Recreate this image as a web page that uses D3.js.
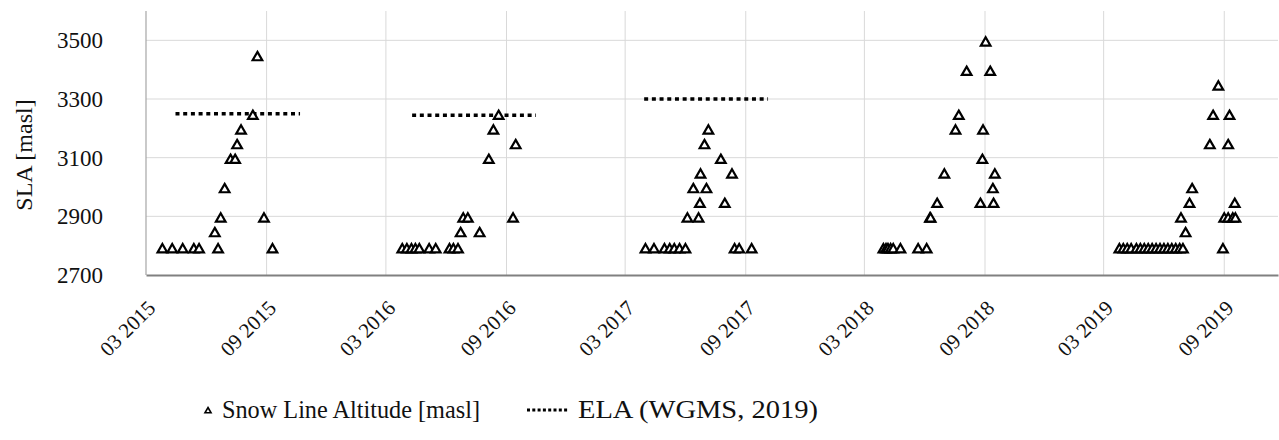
<!DOCTYPE html>
<html>
<head>
<meta charset="utf-8">
<script src="https://cdn.jsdelivr.net/npm/d3@7"></script>
<style>
  body { margin: 0; background: #fff; }
  #chart { width: 1279px; height: 440px; }
</style>
</head>
<body>
<div id="chart"></div>
<script>
// snow line altitude observations, one list per season [date, altitude]
var sla2015 = [["2015-03-26",2790],["2015-04-10",2790],["2015-04-26",2790],["2015-05-13",2790],["2015-05-21",2790],
  ["2015-06-19",2790],["2015-09-10",2790],["2015-06-14",2845],["2015-06-23",2895],["2015-08-28",2895],
  ["2015-06-29",2995],["2015-07-08",3095],["2015-07-15",3095],["2015-07-18",3145],["2015-07-24",3195],
  ["2015-08-11",3245],["2015-08-18",3445]];
var sla2016 = [["2016-03-26",2790],["2016-04-02",2790],["2016-04-09",2790],["2016-04-15",2790],["2016-04-21",2790],
  ["2016-05-06",2790],["2016-05-16",2790],["2016-06-06",2790],["2016-06-12",2790],["2016-06-19",2790],
  ["2016-06-23",2845],["2016-07-22",2845],["2016-06-27",2895],["2016-07-04",2895],["2016-09-11",2895],
  ["2016-08-05",3095],["2016-09-15",3145],["2016-08-12",3195],["2016-08-20",3245]];
var sla2017 = [["2017-04-01",2790],["2017-04-14",2790],["2017-04-30",2790],["2017-05-08",2790],["2017-05-15",2790],
  ["2017-05-23",2790],["2017-06-01",2790],["2017-08-15",2790],["2017-08-22",2790],["2017-09-10",2790],
  ["2017-06-04",2895],["2017-06-21",2895],["2017-06-23",2945],["2017-07-31",2945],["2017-06-13",2995],
  ["2017-07-03",2995],["2017-06-24",3045],["2017-08-11",3045],["2017-07-25",3095],["2017-06-30",3145],
  ["2017-07-06",3195]];
var sla2018 = [["2018-03-30",2790],["2018-04-03",2790],["2018-04-06",2790],["2018-04-10",2790],["2018-04-14",2790],
  ["2018-04-25",2790],["2018-05-22",2790],["2018-06-04",2790],["2018-06-09",2895],["2018-06-10",2895],
  ["2018-06-20",2945],["2018-07-01",3045],["2018-07-18",3195],["2018-07-23",3245],["2018-08-04",3395],
  ["2018-08-25",2945],["2018-08-28",3095],["2018-08-29",3195],["2018-09-02",3495],["2018-09-09",3395],
  ["2018-09-13",2995],["2018-09-14",2945],["2018-09-16",3045]];
var sla2019 = [["2019-03-25",2790],["2019-03-31",2790],["2019-04-06",2790],["2019-04-12",2790],["2019-04-20",2790],
  ["2019-04-26",2790],["2019-05-02",2790],["2019-05-08",2790],["2019-05-14",2790],["2019-05-20",2790],
  ["2019-05-26",2790],["2019-06-01",2790],["2019-06-07",2790],["2019-06-13",2790],["2019-06-19",2790],
  ["2019-06-25",2790],["2019-06-30",2790],["2019-06-27",2895],["2019-07-04",2845],["2019-07-10",2945],
  ["2019-07-14",2995],["2019-08-10",3145],["2019-08-15",3245],["2019-08-23",3345],["2019-08-30",2790],
  ["2019-09-01",2895],["2019-09-07",3145],["2019-09-07",2895],["2019-09-09",3245],["2019-09-14",2895],
  ["2019-09-17",2945],["2019-09-18",2895]];

// ELA (WGMS, 2019) segments: start, end, altitude
var ela = [["2015-04-15","2015-10-22",3250],["2016-04-10","2016-10-16",3245],["2017-03-30","2017-10-05",3300]];

var xTicks = ["2015-03-01","2015-09-01","2016-03-01","2016-09-01","2017-03-01","2017-09-01",
  "2018-03-01","2018-09-01","2019-03-01","2019-09-01"];
var yTicks = [2700, 2900, 3100, 3300, 3500];

var FONT = "'Liberation Serif', 'Times New Roman', serif";
var parse = d3.timeParse("%Y-%m-%d");
var W = 1279, H = 440;
var margin = {top: 11, right: 1, bottom: 165, left: 146};
var w = W - margin.left - margin.right;
var h = H - margin.top - margin.bottom;

var xscale = d3.scaleTime()
  .domain([parse("2015-03-01"), parse("2019-11-22")])
  .range([0, w]);
var yscale = d3.scaleLinear()
  .domain([2700, 3600])
  .range([h, 0]);

var svg = d3.select("#chart").append("svg")
  .attr("width", W).attr("height", H)
  .style("font-family", FONT);
var g = svg.append("g")
  .attr("transform", "translate(" + margin.left + "," + margin.top + ")");

// grid
g.selectAll(".hgrid").data(yTicks.slice(1)).enter().append("line")
  .attr("x1", 0).attr("x2", w)
  .attr("y1", function(d){ return yscale(d); })
  .attr("y2", function(d){ return yscale(d); })
  .attr("stroke", "#d9d9d9").attr("stroke-width", 1);
g.selectAll(".vgrid").data(xTicks.slice(1)).enter().append("line")
  .attr("x1", function(d){ return xscale(parse(d)); })
  .attr("x2", function(d){ return xscale(parse(d)); })
  .attr("y1", 0).attr("y2", h)
  .attr("stroke", "#d9d9d9").attr("stroke-width", 1);

// left axis line + labels
g.append("line").attr("x1", 0).attr("x2", 0).attr("y1", 0).attr("y2", h)
  .attr("stroke", "#a6a6a6").attr("stroke-width", 1.2);
var yaxis = g.append("g")
  .call(d3.axisLeft(yscale).tickValues(yTicks).tickFormat(d3.format("d")).tickSize(0).tickPadding(43))
  .attr("font-family", FONT).attr("font-size", 23);
yaxis.select(".domain").remove();
yaxis.selectAll("text").attr("fill", "#111");

// bottom axis
var xaxis = g.append("g")
  .attr("transform", "translate(0," + h + ")")
  .call(d3.axisBottom(xscale).tickValues(xTicks.map(parse))
    .tickFormat(d3.timeFormat("%m %Y")).tickSize(0))
  .attr("font-family", FONT).attr("font-size", 21);
xaxis.select(".domain").attr("stroke", "#808080").attr("stroke-width", 2);
xaxis.selectAll("text")
  .attr("fill", "#111")
  .attr("text-anchor", "end")
  .attr("y", 0).attr("dy", "0.35em")
  .attr("transform", "translate(5,29) rotate(-45)");

// axis title
svg.append("text")
  .attr("transform", "translate(32," + (margin.top + h / 2 + 12) + ") rotate(-90)")
  .attr("text-anchor", "middle")
  .attr("font-size", 24).attr("fill", "#111")
  .text("SLA [masl]");

// ELA lines
g.selectAll(".ela").data(ela).enter().append("line")
  .attr("x1", function(d){ return xscale(parse(d[0])); })
  .attr("x2", function(d){ return xscale(parse(d[1])); })
  .attr("y1", function(d){ return yscale(d[2]); })
  .attr("y2", function(d){ return yscale(d[2]); })
  .attr("stroke", "#000").attr("stroke-width", 3.5)
  .attr("stroke-dasharray", "4,3.7");

// SLA triangles
var tri = d3.symbol().type(d3.symbolTriangle).size(40);
var all = sla2015.concat(sla2016, sla2017, sla2018, sla2019);
g.selectAll(".sla").data(all).enter().append("path")
  .attr("d", tri)
  .attr("transform", function(d){ return "translate(" + xscale(parse(d[0])) + "," + (yscale(d[1]) + 1) + ")"; })
  .attr("fill", "#fff").attr("stroke", "#000").attr("stroke-width", 2.2);

// legend
var leg = svg.append("g").attr("transform", "translate(0,410)");
leg.append("path").attr("d", d3.symbol().type(d3.symbolTriangle).size(16))
  .attr("transform", "translate(208,1)")
  .attr("fill", "#fff").attr("stroke", "#000").attr("stroke-width", 1.6);
leg.append("text").attr("x", 222).attr("y", 8).attr("font-size", 24.5).attr("fill", "#111")
  .attr("textLength", 258).attr("lengthAdjust", "spacingAndGlyphs")
  .text("Snow Line Altitude [masl]");
leg.append("line").attr("x1", 527).attr("x2", 569).attr("y1", 0).attr("y2", 0)
  .attr("stroke", "#000").attr("stroke-width", 3).attr("stroke-dasharray", "3,2.3");
leg.append("text").attr("x", 578).attr("y", 8).attr("font-size", 24.5).attr("fill", "#111")
  .attr("textLength", 240).attr("lengthAdjust", "spacingAndGlyphs")
  .text("ELA (WGMS, 2019)");
</script>
</body>
</html>
